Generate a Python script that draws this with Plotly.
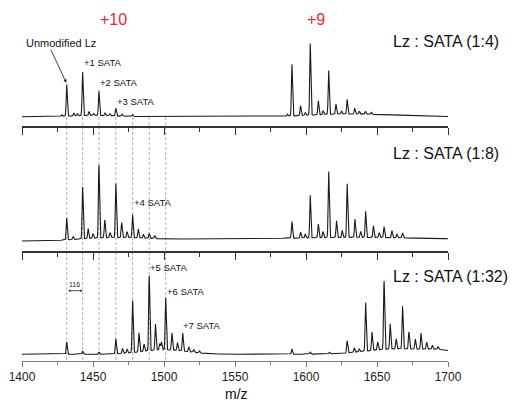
import numpy as np
import plotly.graph_objects as go

# ---------------- data ----------------
mz_min, mz_max = 1400, 1700
tick_vals = [1400, 1450, 1500, 1550, 1600, 1650, 1700]
tick_text = ["1400", "1450", "1500", "1550", "1600", "1650", "1700"]

# +10 charge state SATA adduct positions (dashed guide lines)
adduct_mz = [1431.5, 1442.7, 1454.2, 1466.1, 1477.9, 1489.6, 1501.2]

# Panel 1  Lz : SATA (1:4)  -- peak centres (m/z) and heights (arb.)
p1_mz = [1431.5, 1436.5, 1442.7, 1447.2, 1454.2, 1458.5, 1466.1, 1470.5, 1477.9,
         1428.0, 1439.0, 1450.5, 1462.0,
         1590.1, 1596.2, 1603.0, 1608.7, 1616.0, 1621.1, 1629.0, 1634.3, 1641.9,
         1587.0, 1599.5, 1612.0, 1625.0, 1637.5, 1646.0]
p1_h = [31.7, 3.0, 43.7, 4.0, 24.7, 3.0, 7.7, 2.0, 2.0,
        1.5, 2.0, 2.0, 2.0,
        51.7, 10.0, 71.7, 14.0, 43.7, 10.0, 14.7, 6.0, 3.0,
        2.0, 3.0, 4.0, 3.0, 3.0, 2.0]
p1_hump_mz = [1450, 1625, 1665]
p1_hump_h = [1.2, 2.5, 1.2]
p1_hump_w = [15, 22, 20]

# Panel 2  Lz : SATA (1:8)
p2_mz = [1431.5, 1442.7, 1454.2, 1466.1, 1477.9, 1489.6,
         1446.6, 1458.3, 1470.2, 1481.9, 1436.0, 1450.0, 1462.0, 1474.0, 1485.5, 1493.5,
         1590.1, 1596.2, 1603.0, 1608.7, 1616.0, 1621.5, 1629.0, 1634.5, 1642.0,
         1647.5, 1655.0, 1660.5, 1668.0,
         1599.5, 1612.0, 1625.5, 1638.5, 1651.5, 1664.0]
p2_h = [22.0, 52.0, 73.0, 54.0, 23.0, 5.0,
        10.0, 18.0, 15.0, 9.0, 3.0, 5.0, 5.0, 6.0, 4.0, 3.0,
        16.7, 6.0, 42.7, 13.7, 66.0, 16.7, 53.7, 18.3, 26.0,
        11.7, 11.0, 7.0, 5.0,
        4.0, 6.0, 7.0, 6.0, 5.0, 4.0]
p2_hump_mz = [1465, 1550, 1635, 1700]
p2_hump_h = [3.0, 2.2, 2.8, 1.8]
p2_hump_w = [22, 50, 35, 35]

# Panel 3  Lz : SATA (1:32)
p3_mz = [1431.5, 1442.7, 1454.2, 1466.1, 1470.8, 1477.9, 1482.4, 1489.6, 1494.0,
         1498.2, 1501.2, 1505.6, 1509.5, 1513.2, 1517.5, 1474.0, 1486.0, 1497.0,
         1521.0, 1525.0,
         1590.1, 1603.0, 1616.5, 1629.0, 1634.0, 1637.5, 1642.0, 1646.5, 1650.5,
         1655.0, 1659.3, 1663.5, 1668.0, 1672.5, 1677.0, 1681.0, 1685.0, 1689.0, 1693.0]
p3_h = [12.3, 3.0, 2.0, 15.0, 5.0, 52.0, 19.0, 75.0, 26.0,
        8.0, 52.0, 17.0, 8.0, 18.0, 5.0, 4.0, 7.0, 6.0,
        3.0, 2.0,
        5.3, 2.0, 1.5, 12.0, 4.3, 3.0, 48.3, 18.3, 8.0,
        68.3, 25.3, 10.0, 42.6, 17.0, 10.0, 16.0, 7.0, 4.0, 3.0]
p3_hump_mz = [1500, 1665, 1695]
p3_hump_h = [4.5, 5.5, 2.5]
p3_hump_w = [16, 22, 10]

panel_titles = ["Lz : SATA (1:4)", "Lz : SATA (1:8)", "Lz : SATA (1:32)"]
sata_labels = ["+1 SATA", "+2 SATA", "+3 SATA", "+4 SATA", "+5 SATA", "+6 SATA", "+7 SATA"]
sata_label_mz = [1442.7, 1454.2, 1466.1, 1477.9, 1489.6, 1501.2, 1512.9]

# ---------------- build spectra from peak lists ----------------
grid = np.arange(mz_min, mz_max + 0.001, 0.05)
PEAK_SIGMA = 0.38


def spectrum(mz, h, hmz, hh, hw):
    y = np.zeros_like(grid)
    for c, a in zip(mz, h):
        y += a * np.exp(-0.5 * ((grid - c) / PEAK_SIGMA) ** 2)
    for c, a, w in zip(hmz, hh, hw):
        y += a * np.exp(-0.5 * ((grid - c) / w) ** 2)
    return y


spectra = [
    spectrum(p1_mz, p1_h, p1_hump_mz, p1_hump_h, p1_hump_w),
    spectrum(p2_mz, p2_h, p2_hump_mz, p2_hump_h, p2_hump_w),
    spectrum(p3_mz, p3_h, p3_hump_mz, p3_hump_h, p3_hump_w),
]

# ---------------- layout helpers ----------------
W, H = 516, 404
L, R = 22, 68
PW = W - L - R


def px_x(x):
    return (x - L) / PW


def px_y(y):
    return 1 - y / H


# panel pixel geometry: (axis y, top y, baseline offset)
panels = [(126, 30, 9.3), (251, 140, 10.0), (361, 264, 6.7)]

FONT = "Liberation Sans, Arial, sans-serif"
fig = go.Figure()
for i, y in enumerate(spectra):
    sfx = "" if i == 0 else str(i + 1)
    fig.add_trace(go.Scatter(x=grid, y=y, mode="lines",
                             line=dict(color="#1a1a1a", width=1.1),
                             xaxis="x" + sfx, yaxis="y" + sfx,
                             showlegend=False, hoverinfo="skip"))

for i, (ay, ty, off) in enumerate(panels):
    sfx = "" if i == 0 else str(i + 1)
    last = i == 2
    col = "#7a7a7a" if last else "#333333"
    fig.layout["xaxis" + sfx] = dict(
        domain=[0, 1], anchor="y" + sfx, range=[mz_min, mz_max],
        showline=True, linecolor=col,
        linewidth=1 if last else 2,
        ticks="outside", ticklen=5 if last else 7, tickwidth=1, tickcolor=col,
        tickvals=tick_vals, ticktext=tick_text,
        showticklabels=last, showgrid=False, zeroline=False,
        tickfont=dict(family=FONT, size=12, color="#222"),
        minor=dict(ticks="outside", ticklen=3 if last else 4, tickwidth=1, dtick=25,
                   tick0=1400, tickcolor=col, showgrid=False),
        fixedrange=True,
    )
    fig.layout["yaxis" + sfx] = dict(
        domain=[px_y(ay), px_y(ty)], anchor="x" + sfx,
        range=[-off, (ay - ty) - off], visible=False, fixedrange=True,
    )

shapes = []
for m in adduct_mz:
    shapes.append(dict(type="line", xref="x3", yref="paper", x0=m, x1=m,
                       y0=px_y(117), y1=px_y(360),
                       line=dict(color="#b0b0b0", width=1, dash="3px,2px"),
                       layer="below"))

ann = []


def txt(t, x, y, size, color="#111", xanchor="center", xref="paper"):
    return dict(text=t, x=x, y=y, xref=xref, yref="paper", xanchor=xanchor,
                yanchor="middle", showarrow=False, borderpad=0,
                font=dict(family=FONT, size=size, color=color))


# charge state labels
ann.append(txt("+10", px_x(113), px_y(19), 16, "#ee2a35"))
ann.append(txt("+9", px_x(316), px_y(19), 16, "#ee2a35"))
# panel titles
for t, yc in zip(panel_titles, [42, 153, 276]):
    ann.append(txt(t, px_x(392), px_y(yc), 16, "#111", xanchor="left"))
# SATA labels (left edge at adduct peak)
label_px_y = [62, 83, 101, 202, 267, 291, 325]
for t, m, yc in zip(sata_labels, sata_label_mz, label_px_y):
    ann.append(txt(t, m, px_y(yc), 9.5, "#111", xanchor="left", xref="x3"))
# Unmodified Lz with arrow
ann.append(txt("Unmodified Lz", px_x(61), px_y(43), 11))
ann.append(dict(text="", x=adduct_mz[0] - 0.3, y=34.0, xref="x", yref="y",
                ax=1419.8, ay=68.5, axref="x", ayref="y",
                showarrow=True, arrowhead=2, arrowsize=0.8, arrowwidth=0.8,
                arrowcolor="#111"))
# 116 spacing marker
ann.append(dict(text="", x=adduct_mz[1], y=63.6, xref="x3", yref="y3",
                ax=adduct_mz[0], ay=63.6, axref="x3", ayref="y3",
                showarrow=True, arrowhead=2, arrowside="end+start",
                arrowsize=0.6, arrowwidth=0.8, arrowcolor="#222"))
ann.append(txt("116", (adduct_mz[0] + adduct_mz[1]) / 2, px_y(284), 7, "#222",
               xref="x3"))
# x-axis title
ann.append(txt("m/z", px_x(236), px_y(394), 14))

fig.update_layout(width=W, height=H, margin=dict(l=L, r=R, t=0, b=0),
                  paper_bgcolor="white", plot_bgcolor="white",
                  shapes=shapes, annotations=ann, showlegend=False)

fig.write_html("out.html")
